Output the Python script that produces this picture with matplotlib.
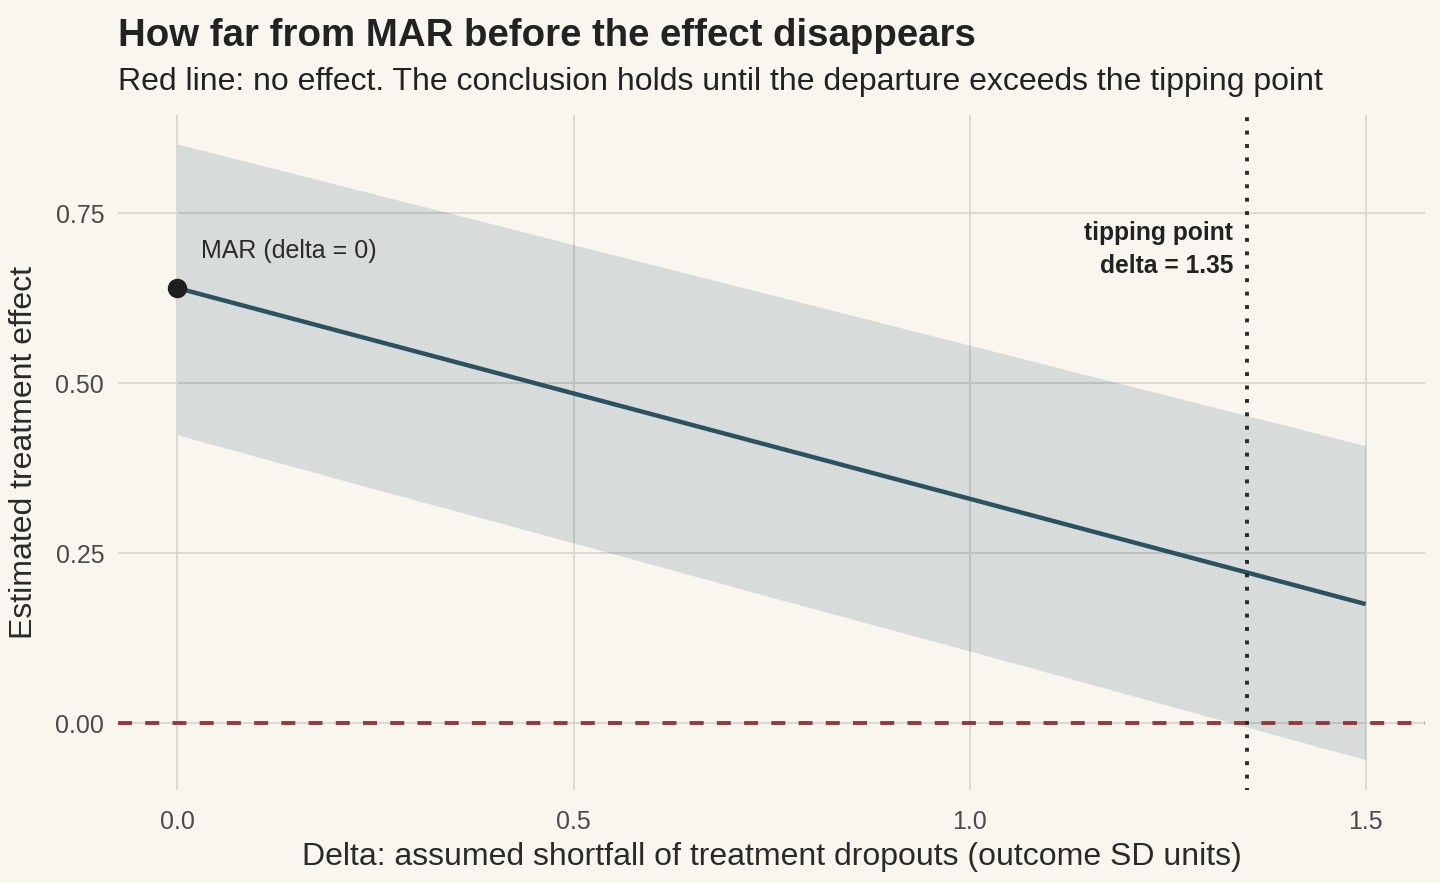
import numpy as np
import matplotlib
matplotlib.use('Agg')
import matplotlib.pyplot as plt

# =======  DATA  ======= #
delta = [0.0, 0.25, 0.5, 0.75, 1.0, 1.25, 1.5]
estimate = [0.640, 0.5625, 0.485, 0.4075, 0.330, 0.2525, 0.175]
ci_low = [0.424, 0.344, 0.265, 0.185, 0.106, 0.026, -0.054]
ci_high = [0.852, 0.778, 0.704, 0.630, 0.556, 0.482, 0.408]
tipping_delta = 1.35
x_ticks = [0.0, 0.5, 1.0, 1.5]
y_ticks = [0.0, 0.25, 0.5, 0.75]

# =======  STYLE  ======= #
bg = '#f9f6f0'
grid_col = '#d9d6ce'
line_col = '#2b5263'
red_col = '#93393f'
plt.rcParams['font.family'] = ['Liberation Sans', 'DejaVu Sans']

fig = plt.figure(figsize=(14.4, 8.83), dpi=100)
fig.patch.set_facecolor(bg)
ax = fig.add_axes([0.082, 0.105, 0.9076, 0.765])
ax.set_facecolor(bg)

ax.fill_between(delta, ci_low, ci_high, color=line_col, alpha=0.16,
                linewidth=0, zorder=2)
ax.plot(delta, estimate, color=line_col, lw=3.2, zorder=3,
        solid_capstyle='butt')
ax.plot(delta[0], estimate[0], 'o', color='#1f1f1f', ms=13, zorder=4)

ax.axhline(0, color=red_col, lw=2.8, ls=(0, (3.6, 3.4)), zorder=3)
ax.axvline(tipping_delta, color='#2a2a2a', lw=2.8, ls=(0.5, (1, 2.45)),
           zorder=3)

ax.annotate('tipping point\ndelta = 1.35', xy=(tipping_delta, 0.697),
            xytext=(-10, 0), textcoords='offset points', ha='right',
            va='center', fontsize=17.7, fontweight='bold', color='#222222',
            linespacing=1.45, zorder=5)
ax.annotate('MAR (delta = 0)', xy=(delta[0], estimate[0]),
            xytext=(17, 27), textcoords='offset points', ha='left',
            va='center', fontsize=18, color='#2a2a2a', zorder=5)

ax.set_xlim(-0.075, 1.575)
ax.set_ylim(-0.099, 0.895)
ax.set_xticks(x_ticks)
ax.set_xticklabels([f'{t:.1f}' for t in x_ticks])
ax.set_yticks(y_ticks)
ax.set_yticklabels([f'{t:.2f}' for t in y_ticks])
ax.tick_params(axis='x', length=0, labelsize=18, labelcolor='#4a4a4a', pad=14)
ax.tick_params(axis='y', length=0, labelsize=18, labelcolor='#4a4a4a', pad=10)
ax.grid(True, color=grid_col, lw=1.3, zorder=0)
ax.set_axisbelow(True)
for s in ax.spines.values():
    s.set_visible(False)

ax.set_xlabel('Delta: assumed shortfall of treatment dropouts (outcome SD units)',
              fontsize=23, color='#2a2a2a', labelpad=6)
ax.set_ylabel('Estimated treatment effect', fontsize=23, color='#2a2a2a',
              labelpad=12)

fig.text(0.082, 0.948, 'How far from MAR before the effect disappears',
         fontsize=27.6, fontweight='bold', color='#222222', ha='left',
         va='baseline')
fig.text(0.082, 0.898, 'Red line: no effect. The conclusion holds until the '
         'departure exceeds the tipping point', fontsize=23,
         color='#222222', ha='left', va='baseline')

fig.savefig('out.png', dpi=100, facecolor=bg)
